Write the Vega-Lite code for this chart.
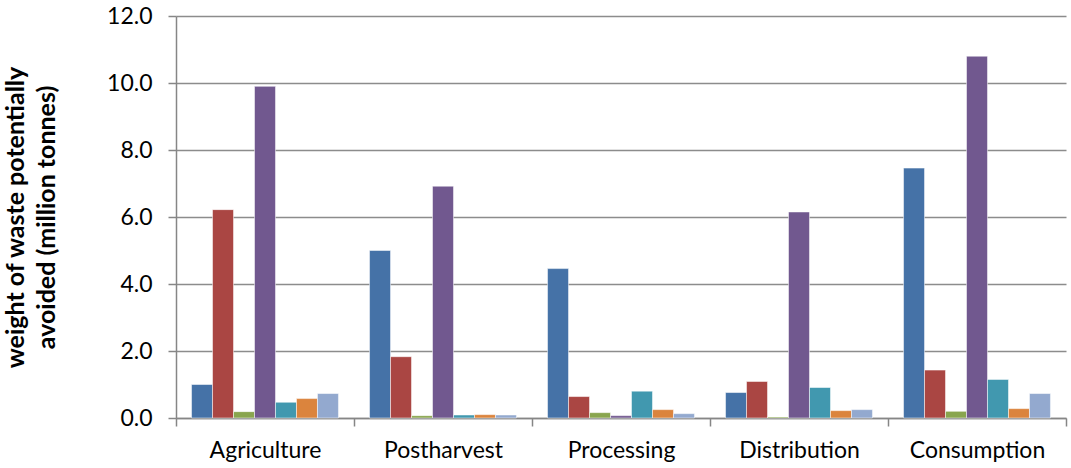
{
  "$schema": "https://vega.github.io/schema/vega-lite/v6.json",
  "autosize": "none",
  "width": 890,
  "height": 402,
  "padding": {"left": 176, "top": 16, "right": 5, "bottom": 50},
  "background": "white",
  "config": {"view": {"stroke": null}, "font": "Lato"},
  "data": {"values": [
    {"stage": "Agriculture", "series": "s1", "value": 1.0},
    {"stage": "Agriculture", "series": "s2", "value": 6.22},
    {"stage": "Agriculture", "series": "s3", "value": 0.19},
    {"stage": "Agriculture", "series": "s4", "value": 9.9},
    {"stage": "Agriculture", "series": "s5", "value": 0.47},
    {"stage": "Agriculture", "series": "s6", "value": 0.58},
    {"stage": "Agriculture", "series": "s7", "value": 0.73},
    {"stage": "Postharvest", "series": "s1", "value": 5.0},
    {"stage": "Postharvest", "series": "s2", "value": 1.83},
    {"stage": "Postharvest", "series": "s3", "value": 0.07},
    {"stage": "Postharvest", "series": "s4", "value": 6.92},
    {"stage": "Postharvest", "series": "s5", "value": 0.09},
    {"stage": "Postharvest", "series": "s6", "value": 0.1},
    {"stage": "Postharvest", "series": "s7", "value": 0.09},
    {"stage": "Processing", "series": "s1", "value": 4.46},
    {"stage": "Processing", "series": "s2", "value": 0.64},
    {"stage": "Processing", "series": "s3", "value": 0.16},
    {"stage": "Processing", "series": "s4", "value": 0.07},
    {"stage": "Processing", "series": "s5", "value": 0.8},
    {"stage": "Processing", "series": "s6", "value": 0.25},
    {"stage": "Processing", "series": "s7", "value": 0.13},
    {"stage": "Distribution", "series": "s1", "value": 0.76},
    {"stage": "Distribution", "series": "s2", "value": 1.09},
    {"stage": "Distribution", "series": "s3", "value": 0.03},
    {"stage": "Distribution", "series": "s4", "value": 6.15},
    {"stage": "Distribution", "series": "s5", "value": 0.91},
    {"stage": "Distribution", "series": "s6", "value": 0.22},
    {"stage": "Distribution", "series": "s7", "value": 0.25},
    {"stage": "Consumption", "series": "s1", "value": 7.46},
    {"stage": "Consumption", "series": "s2", "value": 1.43},
    {"stage": "Consumption", "series": "s3", "value": 0.2},
    {"stage": "Consumption", "series": "s4", "value": 10.8},
    {"stage": "Consumption", "series": "s5", "value": 1.15},
    {"stage": "Consumption", "series": "s6", "value": 0.28},
    {"stage": "Consumption", "series": "s7", "value": 0.73}
  ]},
  "mark": {"type": "bar", "stroke": "white", "strokeOpacity": 0.5, "strokeWidth": 1},
  "encoding": {
    "x": {
      "field": "stage", "type": "nominal", "sort": null,
      "scale": {"paddingInner": 0, "paddingOuter": 0},
      "axis": {
        "title": null, "labelAngle": 0, "tickBand": "extent",
        "labelFont": "Lato", "labelFontSize": 23, "labelColor": "#000000",
        "labelPadding": 13, "tickSize": 8, "tickColor": "#868686",
        "domainColor": "#868686", "domainWidth": 1.5, "tickWidth": 1.5
      }
    },
    "xOffset": {"field": "series", "type": "nominal", "scale": {"paddingInner": 0, "paddingOuter": 0.74}},
    "y": {
      "field": "value", "type": "quantitative",
      "scale": {"domain": [0, 12], "nice": false},
      "axis": {
        "title": ["weight of waste potentially", "avoided (million tonnes)"],
        "titleFont": "Lato", "titleFontSize": 25, "titleFontWeight": "bold", "titleColor": "#000000",
        "titlePadding": 47, "titleLineHeight": 31, "titleLimit": 500,
        "values": [0, 2, 4, 6, 8, 10, 12], "format": ".1f",
        "labelFont": "Lato", "labelFontSize": 23, "labelColor": "#000000",
        "labelPadding": 16, "tickSize": 8, "tickColor": "#868686", "tickWidth": 1.5,
        "domainColor": "#868686", "domainWidth": 1.5,
        "grid": true, "gridColor": "#8c8c8c", "gridWidth": 1.5
      }
    },
    "color": {
      "field": "series", "type": "nominal", "legend": null,
      "scale": {"domain": ["s1", "s2", "s3", "s4", "s5", "s6", "s7"],
        "range": ["#4572A7", "#AA4643", "#89A54E", "#71588F", "#4198AF", "#DB843D", "#93A9CF"]}
    }
  }
}
